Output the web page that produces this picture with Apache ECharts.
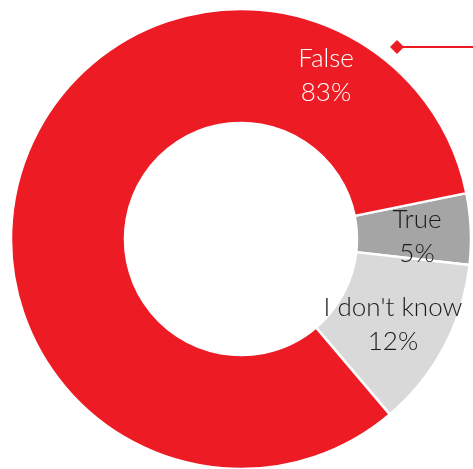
<!DOCTYPE html>
<html>
<head>
<meta charset="utf-8">
<script src="https://cdn.jsdelivr.net/npm/echarts@6/dist/echarts.min.js"></script>
<style>
  html, body { margin: 0; padding: 0; background: #fff; }
  #chart { width: 473px; height: 469px; }
</style>
</head>
<body>
<div id="chart"></div>
<script>
// Answer shares, drawn clockwise starting just above 3 o'clock
const categories = ['True', "I don't know", 'False'];
const shares = [5, 12, 83];
const sliceColors = ['#A5A5A5', '#D9D9D9', '#ED1C24'];
const labelColors = ['#1a1a1a', '#1a1a1a', '#ffffff'];
// Where each label block sits (pixel centre)
const labelSpots = [[417, 237], [393, 325], [326, 76]];

const chart = echarts.init(document.getElementById('chart'), null, { renderer: 'canvas' });

chart.setOption({
  animation: false,
  backgroundColor: '#ffffff',
  series: [{
    type: 'pie',
    center: [241, 239],
    radius: [116, 230],
    startAngle: 11.5,
    clockwise: true,
    avoidLabelOverlap: false,
    itemStyle: { borderColor: '#ffffff', borderWidth: 2.5 },
    label: {
      show: true,
      position: 'inside',
      formatter: p => p.name + '\n' + p.value + '%',
      fontFamily: 'Lato',
      fontWeight: 300,
      fontSize: 26,
      lineHeight: 34,
      align: 'center'
    },
    labelLine: { show: false },
    labelLayout: p => ({
      x: labelSpots[p.dataIndex][0],
      y: labelSpots[p.dataIndex][1],
      align: 'center',
      verticalAlign: 'middle'
    }),
    emphasis: { disabled: true },
    data: categories.map((c, i) => ({
      name: c,
      value: shares[i],
      itemStyle: { color: sliceColors[i] },
      label: { color: labelColors[i] }
    }))
  }],
  graphic: [
    {
      type: 'line',
      shape: { x1: 400, y1: 47, x2: 473, y2: 47 },
      style: { stroke: '#ED1C24', lineWidth: 2 }
    },
    {
      type: 'polygon',
      shape: { points: [[397, 40], [404, 47], [397, 54], [390, 47]] },
      style: { fill: '#ED1C24' }
    }
  ]
});
</script>
</body>
</html>
